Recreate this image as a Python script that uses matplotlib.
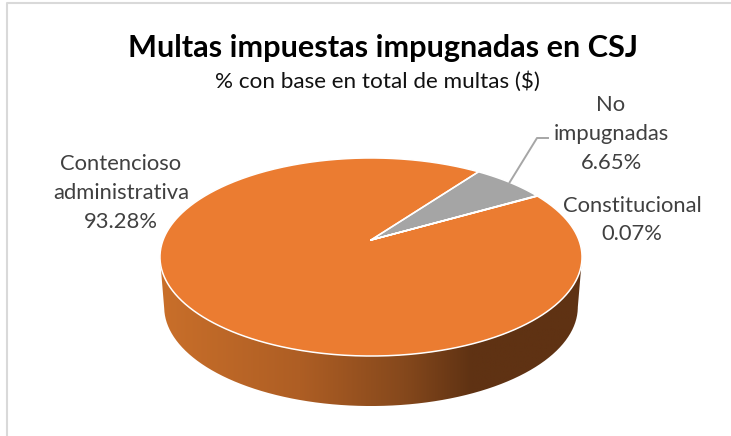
#! /usr/bin/env python

import numpy as np
import matplotlib
matplotlib.use("Agg")
import matplotlib.pyplot as plt
from matplotlib.colors import LinearSegmentedColormap
from matplotlib.patches import PathPatch
from matplotlib.path import Path

plt.rcParams['font.family'] = ['Lato', 'DejaVu Sans']

title = "Multas impuestas impugnadas en CSJ"
subtitle = "% con base en total de multas ($)"
categories = ["Constitucional", "Contencioso\nadministrativa", "No\nimpugnadas"]
values = [0.07, 93.28, 6.65]
colors = ["#4472C4", "#EB7C31", "#A5A5A5"]

W, H = 731, 436
# projection of the tilted disc, in pixels
cx, cy = 371, 240
A, B, k = 96.1, 207.9, -0.1717
depth = 50
start_angle = 60.0   # clockwise from the top


def project(ang, r=1.0):
    a = np.radians(ang)
    x = r * np.sin(a)
    y = -r * np.cos(a)
    d = 1 + k * y
    return cx + B * x / d, cy + A * y / d


fig = plt.figure(figsize=(W / 100, H / 100), dpi=100)
ax = fig.add_axes([0, 0, 1, 1])
ax.set_xlim(0, W)
ax.set_ylim(H, 0)
ax.axis("off")

# frame of the chart, only top and left are visible
ax.plot([W, 7, 7], [3, 3, H], color="#D9D9D9", lw=1.5, zorder=1)

# side wall with its horizontal shading, between the widest points of the rim
angs = np.linspace(100, 260, 240)
top_x, top_y = project(angs)
bot_x = cx + (top_x - cx) * 0.98
bot_y = top_y + depth
verts = np.vstack([np.c_[top_x, top_y], np.c_[bot_x, bot_y][::-1], [[top_x[0], top_y[0]]]])
clip = PathPatch(Path(verts), fc="none", ec="none", transform=ax.transData)
ax.add_patch(clip)
shade = LinearSegmentedColormap.from_list("side", [
    (0.0, "#C96F2A"), (0.33, "#AE5E24"), (0.58, "#85481C"),
    (0.74, "#5F3213"), (1.0, "#5F3213")])
im = ax.imshow(np.linspace(0, 1, 256)[None, :], cmap=shade, aspect="auto",
               extent=[160, 582, 420, 240], zorder=2)
im.set_clip_path(clip)
ax.set_xlim(0, W)
ax.set_ylim(H, 0)

# top of the pie
ang = start_angle
mids = []
for val, col in zip(values, colors):
    sweep = val / sum(values) * 360
    arc = np.linspace(ang, ang + sweep, max(3, int(sweep * 2)))
    xs, ys = project(arc)
    ax.fill(np.r_[cx, xs], np.r_[cy, ys], fc=col, ec="none", zorder=3)
    ax.plot(np.r_[cx, xs, cx], np.r_[cy, ys, cy], color="white", lw=1.1,
            solid_joinstyle="round", zorder=4)
    mids.append(ang + sweep / 2)
    ang += sweep

# leader of the grey slice
lx, ly = project(mids[2])
ax.plot([lx, 537, 548], [ly, 138, 138], color="#A6A6A6", lw=1.4, zorder=5)

# texts
ax.text(383, 48, title, ha="center", va="center", fontsize=22.1, fontweight="bold", color="black")
ax.text(377, 82, subtitle, ha="center", va="center", fontsize=16.2, color="#111111")

lab_pos = [(632, 220), (121, 193), (611, 134)]
for name, val, (tx, ty) in zip(categories, values, lab_pos):
    ax.text(tx, ty, "%s\n%.2f%%" % (name, val), ha="center", va="center",
            fontsize=15.8, color="#404040", linespacing=1.55, zorder=6)

fig.savefig("out.png", dpi=100)
